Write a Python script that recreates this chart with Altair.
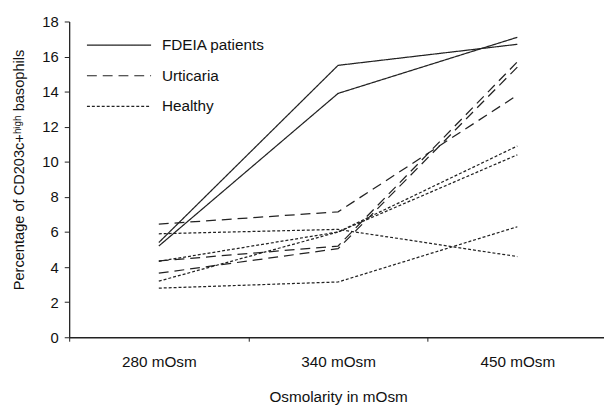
import altair as alt
import pandas as pd

# Data
osmolarity = ["280 mOsm", "340 mOsm", "450 mOsm"]
groups = ["FDEIA patients", "Urticaria", "Healthy"]

fdeia_1 = [5.4, 15.5, 16.7]
fdeia_2 = [5.2, 13.9, 17.1]
urticaria_1 = [6.45, 7.15, 13.8]
urticaria_2 = [4.35, 5.2, 15.7]
urticaria_3 = [3.65, 5.05, 15.4]
healthy_1 = [5.9, 6.15, 4.6]
healthy_2 = [4.33, 6.0, 10.9]
healthy_3 = [3.2, 6.0, 10.4]
healthy_4 = [2.8, 3.15, 6.3]

series = [
    ("F1", "FDEIA patients", fdeia_1),
    ("F2", "FDEIA patients", fdeia_2),
    ("U1", "Urticaria", urticaria_1),
    ("U2", "Urticaria", urticaria_2),
    ("U3", "Urticaria", urticaria_3),
    ("H1", "Healthy", healthy_1),
    ("H2", "Healthy", healthy_2),
    ("H3", "Healthy", healthy_3),
    ("H4", "Healthy", healthy_4),
]

rows = []
for sid, grp, vals in series:
    for o, v in zip(osmolarity, vals):
        rows.append({"subject": sid, "group": grp, "osm": o, "value": v})
df = pd.DataFrame(rows)

FONT = "Liberation Sans"

chart = alt.Chart(df).mark_line(color="#222222", strokeWidth=1.25).encode(
    x=alt.X(
        "osm:N",
        sort=osmolarity,
        bandPosition=0.5,
        scale=alt.Scale(type="band", paddingInner=0, paddingOuter=0, range=[0, 545]),
        axis=alt.Axis(
            title="Osmolarity in mOsm",
            labelAngle=0,
            tickBand="extent",
            tickSize=4,
            labelPadding=14,
            titlePadding=20,
            labelFontSize=15.5,
            titleFontSize=15.5,
        ),
    ),
    y=alt.Y(
        "value:Q",
        scale=alt.Scale(domain=[0, 18]),
        axis=alt.Axis(
            title="Percentage of CD203c+ʰⁱᵍʰ basophils",
            values=[0, 2, 4, 6, 8, 10, 12, 14, 16, 18],
            tickSize=5,
            labelPadding=6,
            titlePadding=16,
            titleY=150,
            labelFontSize=15,
            titleFontSize=14.8,
            grid=False,
        ),
    ),
    detail="subject:N",
    strokeDash=alt.StrokeDash(
        "group:N",
        sort=groups,
        scale=alt.Scale(domain=groups, range=[[1, 0], [10, 6], [3, 2]]),
        legend=alt.Legend(
            title=None,
            orient="none",
            legendX=17,
            legendY=16,
            symbolType="stroke",
            symbolSize=4225,
            symbolStrokeColor="#222222",
            symbolStrokeWidth=1.2,
            clipHeight=16,
            rowPadding=14,
            labelOffset=10,
            labelFontSize=15.5,
            padding=0,
        ),
    ),
).properties(
    width=542,
    height=320,
    autosize=alt.AutoSizeParams(type="none"),
    padding={"left": 62, "top": 11, "right": 0, "bottom": 68},
).configure(
    font=FONT,
).configure_view(
    stroke=None,
).configure_axis(
    domainColor="#222222",
    tickColor="#222222",
    labelColor="#111111",
    titleColor="#111111",
    labelFont=FONT,
    titleFont=FONT,
    titleFontWeight="normal",
    domainWidth=1.3,
).configure_legend(
    labelFont=FONT,
    labelColor="#111111",
)

chart.save("out.html", embed_options={"renderer": "svg", "actions": False})
